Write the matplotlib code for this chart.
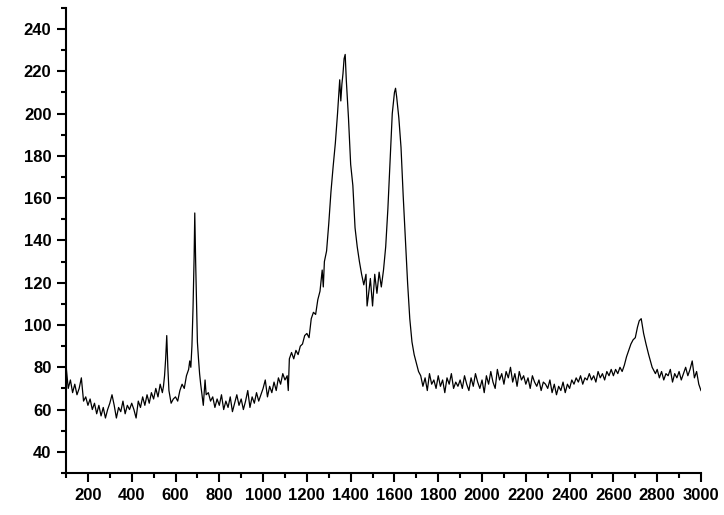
import matplotlib
matplotlib.use("Agg")
import numpy as np
from matplotlib import pyplot as plt
from matplotlib.ticker import MultipleLocator

plt.rcParams["font.family"] = ["Liberation Sans", "DejaVu Sans"]

# Raman shift (cm-1); denser around the sharp peaks
shift = [
    100, 110, 120, 130, 140, 150, 160, 170, 180, 190,
    200, 210, 220, 230, 240, 250, 260, 270, 280, 290,
    300, 310, 320, 330, 340, 350, 360, 370, 380, 390,
    400, 410, 420, 430, 440, 450, 460, 470, 480, 490,
    500, 510, 520, 530, 540, 545, 550, 555, 560, 565, 570, 575, 580, 590,
    600, 610, 620, 630, 640, 650, 660, 665, 670, 675, 680, 685, 688, 692, 696,
    700, 705, 710, 715, 720, 727, 735, 740, 750, 760, 770, 780, 790,
    800, 810, 820, 830, 840, 850, 860, 870, 880, 890,
    900, 910, 920, 930, 940, 950, 960, 970, 980, 990,
    1000, 1010, 1020, 1030, 1040, 1050, 1060, 1070, 1080, 1090,
    1100, 1110, 1115, 1120, 1130, 1140, 1150, 1160, 1170, 1180, 1190,
    1200, 1210, 1220, 1230, 1240, 1250, 1260, 1270, 1275, 1280, 1290,
    1300, 1310, 1320, 1330, 1340, 1350, 1355, 1360, 1365, 1370, 1375, 1380, 1390,
    1400, 1410, 1420, 1430, 1440, 1450, 1460, 1470, 1475, 1480, 1490,
    1500, 1510, 1520, 1530, 1540, 1550, 1560, 1570, 1580, 1590,
    1600, 1605, 1610, 1620, 1630, 1640, 1650, 1660, 1670, 1680, 1690,
    1700, 1710, 1720, 1730, 1740, 1750, 1760, 1770, 1780, 1790,
    1800, 1810, 1820, 1830, 1840, 1850, 1860, 1870, 1880, 1890,
    1900, 1910, 1920, 1930, 1940, 1950, 1960, 1970, 1980, 1990,
    2000, 2010, 2020, 2030, 2040, 2050, 2060, 2070, 2080, 2090,
    2100, 2110, 2120, 2130, 2140, 2150, 2160, 2170, 2180, 2190,
    2200, 2210, 2220, 2230, 2240, 2250, 2260, 2270, 2280, 2290,
    2300, 2310, 2320, 2330, 2340, 2350, 2360, 2370, 2380, 2390,
    2400, 2410, 2420, 2430, 2440, 2450, 2460, 2470, 2480, 2490,
    2500, 2510, 2520, 2530, 2540, 2550, 2560, 2570, 2580, 2590,
    2600, 2610, 2620, 2630, 2640, 2650, 2660, 2670, 2680, 2690,
    2700, 2710, 2718, 2727, 2738, 2749, 2761, 2777, 2792,
    2800, 2810, 2820, 2830, 2840, 2850, 2860, 2870, 2880, 2890,
    2900, 2910, 2920, 2930, 2940, 2950, 2960, 2970, 2980, 2990, 3000,
]

intensity = [
    81, 70, 74, 68, 72, 67, 70, 75, 64, 66,
    62, 65, 60, 63, 58, 62, 57, 61, 56, 60,
    63, 67, 62, 56, 61, 59, 64, 58, 62, 60,
    63, 60, 56, 64, 61, 66, 62, 67, 63, 68,
    65, 70, 66, 72, 68, 71, 76, 84, 95, 80, 69, 66, 63, 65,
    66, 64, 69, 72, 70, 76, 79, 83, 80, 90, 108, 132, 153, 130, 110,
    92, 84, 77, 72, 68, 62, 74, 67, 68, 64, 66, 61, 65,
    62, 67, 60, 64, 61, 66, 59, 63, 67, 62,
    65, 60, 64, 69, 61, 66, 63, 68, 64, 67,
    70, 74, 66, 71, 68, 73, 69, 75, 72, 77,
    74, 76, 69, 84, 87, 84, 88, 86, 90, 91, 95,
    96, 94, 103, 106, 105, 112, 116, 126, 118, 130, 135,
    148, 163, 175, 186, 200, 216, 206, 214, 219, 226, 228, 216, 198,
    176, 166, 146, 137, 130, 124, 119, 124, 109, 113, 122,
    109, 124, 115, 125, 118, 126, 137, 155, 178, 200,
    210, 212, 208, 198, 184, 161, 140, 120, 103, 92, 86,
    82, 78, 76, 71, 75, 69, 77, 72, 74, 70,
    76, 71, 74, 68, 75, 72, 77, 70, 73, 71,
    74, 70, 76, 72, 69, 75, 71, 77, 73, 70,
    74, 68, 76, 72, 78, 73, 70, 79, 74, 77,
    72, 78, 75, 80, 73, 77, 71, 78, 74, 76,
    72, 75, 70, 76, 73, 71, 74, 69, 73, 72,
    70, 74, 68, 72, 67, 71, 69, 73, 68, 72,
    70, 74, 72, 75, 73, 76, 72, 75, 74, 77,
    74, 76, 73, 78, 75, 77, 74, 78, 76, 79,
    76, 79, 77, 80, 78, 81, 85, 88, 91, 93,
    94, 99, 102, 103, 96, 91, 86, 80, 77,
    79, 75, 78, 74, 77, 76, 79, 73, 77, 75,
    78, 74, 77, 80, 76, 79, 83, 75, 78, 72, 69,
]

x_ticks = np.arange(200, 3001, 200)
y_ticks = np.arange(40, 241, 20)

fig = plt.figure(figsize=(7.24, 5.15), dpi=100)
ax = fig.add_axes([0.0912, 0.0816, 0.877, 0.903])

ax.plot(shift, intensity, color="black", linewidth=0.9)

ax.set_xlim(100, 3000)
ax.set_ylim(30, 250)
ax.set_xticks(x_ticks)
ax.set_yticks(y_ticks)
ax.xaxis.set_minor_locator(MultipleLocator(100))
ax.yaxis.set_minor_locator(MultipleLocator(10))

for side in ("top", "right"):
    ax.spines[side].set_visible(False)
for side in ("left", "bottom"):
    ax.spines[side].set_linewidth(1.5)

ax.tick_params(which="major", direction="out", length=6.5, width=1.5,
               labelsize=12, pad=4)
ax.tick_params(which="minor", direction="out", length=3.5, width=1.5)
for lbl in ax.get_xticklabels() + ax.get_yticklabels():
    lbl.set_fontweight("bold")

fig.savefig("out.png", dpi=100)
